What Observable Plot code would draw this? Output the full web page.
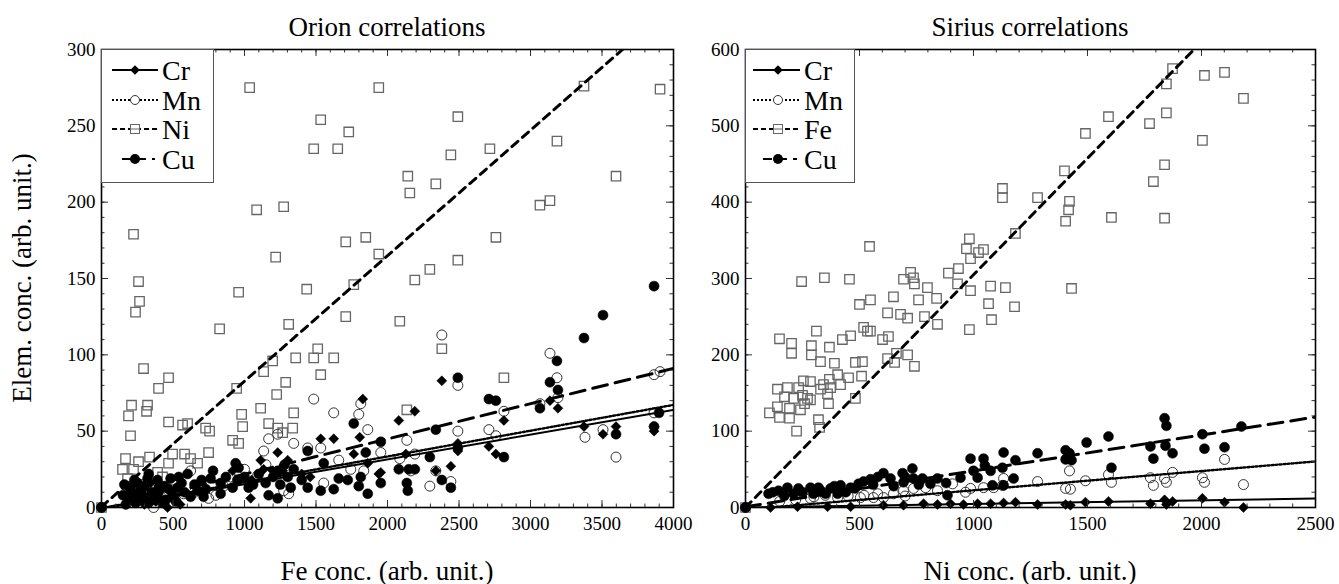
<!DOCTYPE html>
<html><head><meta charset="utf-8">
<script src="https://cdn.jsdelivr.net/npm/d3@7"></script>
<script src="https://cdn.jsdelivr.net/npm/@observablehq/plot@0.6"></script>
<style>
body{margin:0;background:#fff;width:1339px;height:584px;overflow:hidden;position:relative;font-family:"Liberation Serif",LiberationSerif,"Times New Roman",Times,"DejaVu Serif",serif;}
.lbl{position:absolute;font-size:27px;white-space:nowrap;color:#000;transform:translate(-50%,-50%);line-height:1;font-family:"Liberation Serif",LiberationSerif,"Times New Roman",Times,"DejaVu Serif",serif;}
.panel{position:absolute;top:0;}
svg text{font-family:"Liberation Serif",LiberationSerif,"Times New Roman",Times,"DejaVu Serif",serif !important;}
</style></head><body>
<div id="left" class="panel" style="left:0px"></div>
<div id="right" class="panel" style="left:660px"></div>
<script>
// ---------- DATA ----------
const orionTitle = "Orion correlations";
const siriusTitle = "Sirius correlations";
const orionXLabel = "Fe conc. (arb. unit.)";
const siriusXLabel = "Ni conc. (arb. unit.)";
const yLabel = "Elem. conc. (arb. unit.)";
const orionNames = ["Cr","Mn","Ni","Cu"];
const siriusNames = ["Cr","Mn","Fe","Cu"];

const orionXTicks = [0,500,1000,1500,2000,2500,3000,3500,4000];
const orionYTicks = [0,50,100,150,200,250,300];
const siriusXTicks = [0,500,1000,1500,2000,2500];
const siriusYTicks = [0,100,200,300,400,500,600];

// Orion: x = Fe concentration
const orionNi = [[1036,275],[1939,275],[1533,254],[1729,246],[1484,235],[1652,235],[1085,195],[1274,197],[224,179],[1708,174],[1848,177],[1218,164],[1939,166],[259,148],[266,135],[238,128],[959,141],[1435,143],[1764,146],[826,117],[1309,120],[1708,125],[294,91],[469,85],[399,78],[1197,96],[1134,89],[1358,98],[1512,104],[1484,98],[1624,98],[1533,87],[1288,82],[1225,74],[945,78],[1113,65],[1344,62],[980,61],[987,53],[210,67],[322,67],[315,63],[189,60],[203,47],[469,56],[567,54],[602,55],[728,52],[756,50],[917,44],[959,42],[1169,55],[1232,52],[1267,49],[1337,52],[749,36],[581,35],[623,32],[672,29],[497,35],[469,29],[168,32],[259,30],[336,33],[147,25],[224,25],[182,19],[392,23],[427,20],[0,0],[3374,276],[3906,274],[2492,256],[2443,231],[2716,235],[3185,240],[2142,217],[2156,206],[2338,212],[3598,217],[3066,198],[3136,201],[2758,177],[2492,162],[2296,156],[2191,149],[2086,122],[2380,104],[2814,85],[2135,64]];
const orionMn = [[2380,113],[3136,101],[3185,85],[3192,72],[3066,68],[2814,63],[3864,87],[3906,89],[2492,80],[2492,50],[2709,51],[2758,47],[2135,44],[1953,36],[2086,32],[2191,35],[3381,46],[3507,51],[3598,33],[3864,62],[2296,14],[2443,17],[2163,24],[2338,24],[1484,71],[1624,62],[1813,68],[1799,61],[1862,51],[1169,45],[1232,48],[1134,37],[1344,42],[1442,39],[1533,39],[1659,31],[854,14],[749,6],[364,0],[623,24],[903,20],[1092,21],[1274,11],[1309,9],[1554,16],[1743,25],[1834,24],[182,9],[224,5],[343,7],[462,9],[574,9],[1000,25],[1150,28],[200,14],[280,15],[420,12],[500,18],[650,10],[800,8],[0,0]];
const orionCr = [[2380,83],[2079,57],[2191,63],[2814,57],[3136,70],[3192,65],[3374,53],[3507,48],[3598,53],[3864,53],[3864,50],[2492,42],[2492,37],[2709,40],[2758,35],[2128,35],[1953,23],[2443,27],[2338,24],[1827,71],[1806,46],[1533,45],[1624,45],[1232,36],[1113,31],[1134,25],[1197,24],[1267,24],[1302,31],[1764,35],[1862,29],[1939,22],[1043,6],[917,24],[203,13],[273,9],[343,16],[413,11],[483,7],[462,0],[1400,22],[1460,20],[1050,18],[180,3],[250,5],[300,2],[380,4],[550,2],[0,0]];
const orionCu = [[3864,145],[3507,126],[3374,111],[3185,96],[3136,82],[3192,77],[3066,65],[2492,85],[2709,71],[2758,70],[2338,51],[1953,43],[2296,33],[2814,33],[2079,25],[2149,25],[2191,25],[2135,16],[2142,11],[2380,18],[2443,13],[1953,16],[2492,39],[3598,48],[3899,62],[3864,53],[1764,55],[1442,37],[1848,36],[938,29],[959,26],[1232,24],[1344,25],[602,22],[763,19],[833,16],[917,13],[1029,13],[1148,16],[1169,8],[1232,6],[1323,13],[1442,13],[1533,11],[1624,12],[1659,19],[1722,18],[1813,20],[1799,14],[1862,9],[1554,29],[1302,20],[252,16],[322,19],[392,18],[483,19],[392,9],[294,7],[189,5],[238,3],[329,3],[427,3],[504,7],[532,13],[672,11],[714,7],[623,7],[833,9],[150,8],[200,12],[280,12],[350,10],[440,14],[560,16],[700,18],[1000,20],[1100,22],[1250,15],[1400,18],[160,15],[170,2],[210,8],[230,18],[260,10],[300,14],[330,22],[370,5],[400,13],[450,5],[470,12],[520,4],[540,20],[580,10],[650,15],[730,12],[780,24],[870,20],[950,18],[1060,15],[1200,20],[1280,28],[0,0]];
// Orion linear fits for Cr, Mn, Ni, Cu
const orionSlopes = [0.0162, 0.0169, 0.0822, 0.0231];
const orionIntercepts = [-0.9, -0.4, 0.5, -1.3];

// Sirius: x = Ni concentration
const siriusFe = [[1127,418],[1127,406],[982,352],[1184,359],[1873,575],[1846,555],[2013,566],[2101,570],[2184,536],[1592,512],[1491,490],[1846,517],[1772,503],[2004,481],[1399,441],[1838,449],[1789,427],[1281,406],[1421,401],[1417,390],[1404,375],[1605,380],[1838,379],[1430,287],[544,342],[969,339],[987,326],[1022,334],[1044,338],[890,307],[934,313],[724,308],[693,299],[737,301],[741,293],[798,288],[930,293],[987,284],[1075,290],[1140,288],[1066,267],[1180,263],[1079,246],[982,233],[246,296],[346,301],[456,299],[500,266],[548,272],[649,276],[759,272],[838,274],[623,255],[680,253],[711,248],[785,250],[842,240],[311,231],[425,220],[461,225],[518,236],[535,231],[548,231],[601,220],[627,224],[149,221],[202,215],[289,212],[368,210],[202,202],[289,200],[329,191],[390,189],[482,190],[513,191],[623,195],[662,202],[711,200],[654,190],[741,185],[404,174],[452,170],[509,172],[140,155],[184,157],[233,157],[254,166],[285,165],[342,161],[368,168],[373,157],[417,161],[171,145],[211,143],[250,147],[272,143],[285,141],[329,155],[360,149],[105,124],[140,132],[193,130],[241,128],[259,136],[149,118],[193,117],[364,136],[482,143],[224,100],[320,115],[325,105],[0,0]];
const siriusMn = [[2101,63],[1421,48],[1281,34],[1404,25],[1425,24],[1491,35],[1592,43],[1605,33],[1776,39],[1789,29],[1838,38],[1846,33],[1873,46],[2004,39],[2013,33],[2184,30],[1132,38],[1127,29],[1088,26],[1044,26],[987,25],[965,20],[908,31],[842,22],[790,26],[737,25],[693,22],[649,18],[605,13],[561,13],[285,12],[404,13],[504,13],[150,8],[220,10],[300,14],[350,16],[450,15],[520,16],[580,18],[700,15],[0,0]];
const siriusCr = [[1281,4],[1404,4],[1425,3],[1491,7],[1592,8],[1776,5],[1838,10],[1846,4],[1873,8],[2004,12],[2101,7],[2184,0],[110,0],[228,1],[360,1],[461,1],[605,3],[693,3],[781,5],[842,4],[899,5],[956,4],[1018,5],[1075,5],[1132,6],[1184,7],[0,0]];
const siriusCu = [[1838,117],[1846,107],[2175,106],[2004,96],[1592,93],[1496,85],[1281,71],[1404,75],[1421,71],[1404,63],[1430,62],[1776,80],[1789,64],[1842,81],[1873,71],[2013,77],[2101,79],[1605,52],[1132,72],[1184,62],[987,64],[1044,64],[1127,52],[943,39],[1018,39],[1075,48],[1176,38],[1132,29],[1083,29],[886,16],[605,45],[636,38],[689,45],[732,51],[693,33],[737,38],[776,38],[842,38],[811,31],[518,34],[548,37],[496,31],[461,26],[417,29],[373,25],[320,26],[285,26],[232,25],[184,26],[145,22],[101,18],[351,18],[404,18],[298,18],[211,18],[120,20],[170,15],[250,20],[330,22],[390,28],[440,20],[480,25],[560,30],[580,40],[650,28],[700,40],[760,30],[880,32],[1000,48],[1050,55],[0,0]];
// Sirius linear fits for Cr, Mn, Fe, Cu
const siriusSlopes = [0.0047, 0.0252, 0.305, 0.047];
const siriusIntercepts = [0, -2.7, 0, 1];

// ---------- STYLES ----------
const FONT = "'Liberation Serif', LiberationSerif, 'Times New Roman', Times, 'DejaVu Serif', serif";
const lineStyles = [
  {strokeWidth: 2, strokeDasharray: null},
  {strokeWidth: 2.4, strokeDasharray: "2,2"},
  {strokeWidth: 3, strokeDasharray: "8,6"},
  {strokeWidth: 3, strokeDasharray: "15,8"}
];

const H = 584, MT = 49, MB = 77;

function minorTicks(major, step) {
  const out = [];
  const lo = major[0], hi = major[major.length - 1];
  for (let v = lo; v <= hi + 1e-9; v += step) out.push(+v.toFixed(6));
  return out;
}

function makePanel(cfg) {
  const fh = H - MT - MB;
  const fw = cfg.width - cfg.ml - cfg.mr;
  const xMinor = minorTicks(cfg.xTicks, cfg.xMinorStep);
  const yMinor = minorTicks(cfg.yTicks, cfg.yMinorStep);
  const xd = [cfg.xTicks[0], cfg.xTicks[cfg.xTicks.length - 1]];
  const fitMarks = cfg.slopes.map((a, i) => {
    const b = cfg.intercepts[i];
    const pts = xd.map(x => [x, a * x + b]);
    return Plot.line(pts, {x: d => d[0], y: d => d[1], stroke: "#000",
      strokeWidth: lineStyles[i].strokeWidth, strokeDasharray: lineStyles[i].strokeDasharray, clip: true});
  });
  const tickStroke = "#333";
  return Plot.plot({
    width: cfg.width, height: H,
    marginTop: MT, marginBottom: MB, marginLeft: cfg.ml, marginRight: cfg.mr,
    x: {domain: xd, label: null},
    y: {domain: [cfg.yTicks[0], cfg.yTicks[cfg.yTicks.length - 1]], label: null},
    style: {background: "transparent", fontFamily: FONT, overflow: "visible", maxWidth: "none"},
    marks: [
      Plot.dot(cfg.sq, {x: d => d[0], y: d => d[1], symbol: "square", r: 5.3, fill: "none", stroke: "#666", strokeWidth: 1.3}),
      Plot.dot(cfg.mn, {x: d => d[0], y: d => d[1], r: 5, fill: "none", stroke: "#333", strokeWidth: 1}),
      Plot.dot(cfg.cr, {x: d => d[0], y: d => d[1], symbol: "diamond2", r: 4.5, fill: "#000", stroke: "#000", strokeWidth: 0.5}),
      Plot.dot(cfg.cu, {x: d => d[0], y: d => d[1], r: 5, fill: "#000", stroke: "#000", strokeWidth: 0.5}),
      ...fitMarks,
      Plot.ruleX(cfg.xTicks, {insetTop: fh - 7, stroke: tickStroke}),
      Plot.ruleX(cfg.xTicks, {insetBottom: fh - 7, stroke: tickStroke}),
      Plot.ruleX(xMinor, {insetTop: fh - 3.5, stroke: tickStroke}),
      Plot.ruleX(xMinor, {insetBottom: fh - 3.5, stroke: tickStroke}),
      Plot.ruleY(cfg.yTicks, {insetRight: fw - 7, stroke: tickStroke}),
      Plot.ruleY(cfg.yTicks, {insetLeft: fw - 7, stroke: tickStroke}),
      Plot.ruleY(yMinor, {insetRight: fw - 3.5, stroke: tickStroke}),
      Plot.ruleY(yMinor, {insetLeft: fw - 3.5, stroke: tickStroke}),
      Plot.frame({stroke: "#000", strokeWidth: 1.6}),
      Plot.axisX(cfg.xTicks, {anchor: "bottom", tickSize: 0, tickPadding: 9, fontSize: 19, fontFamily: FONT, tickFormat: d => String(d), label: null}),
      Plot.axisY(cfg.yTicks, {anchor: "left", tickSize: 0, tickPadding: 6, fontSize: 19, fontFamily: FONT, tickFormat: d => String(d), label: null})
    ]
  });
}

document.getElementById("left").appendChild(makePanel({
  width: 700, ml: 101, mr: 27,
  xTicks: orionXTicks, yTicks: orionYTicks, xMinorStep: 100, yMinorStep: 10,
  sq: orionNi, mn: orionMn, cr: orionCr, cu: orionCu,
  slopes: orionSlopes, intercepts: orionIntercepts
}));
document.getElementById("right").appendChild(makePanel({
  width: 679, ml: 85, mr: 24,
  xTicks: siriusXTicks, yTicks: siriusYTicks, xMinorStep: 100, yMinorStep: 20,
  sq: siriusFe, mn: siriusMn, cr: siriusCr, cu: siriusCu,
  slopes: siriusSlopes, intercepts: siriusIntercepts
}));

// ---------- TEXT LABELS ----------
function label(text, x, y, rotate) {
  const d = document.createElement("div");
  d.className = "lbl";
  d.textContent = text;
  d.style.left = x + "px";
  d.style.top = y + "px";
  if (rotate) d.style.transform = "translate(-50%,-50%) rotate(-90deg)";
  document.body.appendChild(d);
}
label(orionTitle, 387, 27);
label(siriusTitle, 1030, 27);
label(orionXLabel, 387, 571);
label(siriusXLabel, 1030, 571);
label(yLabel, 22, 278, true);

// ---------- LEGENDS ----------
function legend(left, width, names, lineX0, lineX1, markX, textX) {
  const svg = d3.select("body").append("svg")
    .style("position", "absolute").style("left", left + "px").style("top", MT + "px")
    .attr("width", width + 1).attr("height", 135);
  svg.append("rect").attr("x", 0.5).attr("y", 0.5).attr("width", width).attr("height", 133)
    .attr("fill", "#fff").attr("stroke", "#555").attr("stroke-width", 1);
  const rows = [21, 51, 80, 110];
  names.forEach((name, i) => {
    const y = rows[i];
    const g = svg.append("g");
    const x0 = i === 3 ? lineX0 + 10 : lineX0;
    const x1 = i === 3 ? lineX1 - 3 : lineX1;
    g.append("line").attr("x1", x0).attr("x2", x1).attr("y1", y).attr("y2", y)
      .attr("stroke", "#000").attr("stroke-width", 2)
      .attr("stroke-dasharray", i === 0 ? null : i === 1 ? "2,2" : i === 2 ? "5,3" : "9,6");
    if (i === 0) {
      g.append("path").attr("d", d3.symbol(d3.symbolDiamond2, 60)()).attr("transform", `translate(${markX},${y})`).attr("fill", "#000");
    } else if (i === 1) {
      g.append("circle").attr("cx", markX).attr("cy", y).attr("r", 4.5).attr("fill", "#fff").attr("stroke", "#333");
    } else if (i === 2) {
      g.append("rect").attr("x", markX - 4.5).attr("y", y - 4.5).attr("width", 9).attr("height", 9).attr("fill", "#fff").attr("stroke", "#666");
      g.append("line").attr("x1", markX - 4.5).attr("x2", markX + 4.5).attr("y1", y).attr("y2", y).attr("stroke", "#666");
    } else {
      g.append("circle").attr("cx", markX).attr("cy", y).attr("r", 5).attr("fill", "#000");
    }
    g.append("text").attr("x", textX).attr("y", y + 10).text(name)
      .attr("font-family", FONT).attr("font-size", 28).attr("fill", "#000");
  });
}
legend(101, 112, orionNames, 11, 57, 34, 61);
legend(745, 109, siriusNames, 8, 55, 33, 59);
</script>
</body></html>
